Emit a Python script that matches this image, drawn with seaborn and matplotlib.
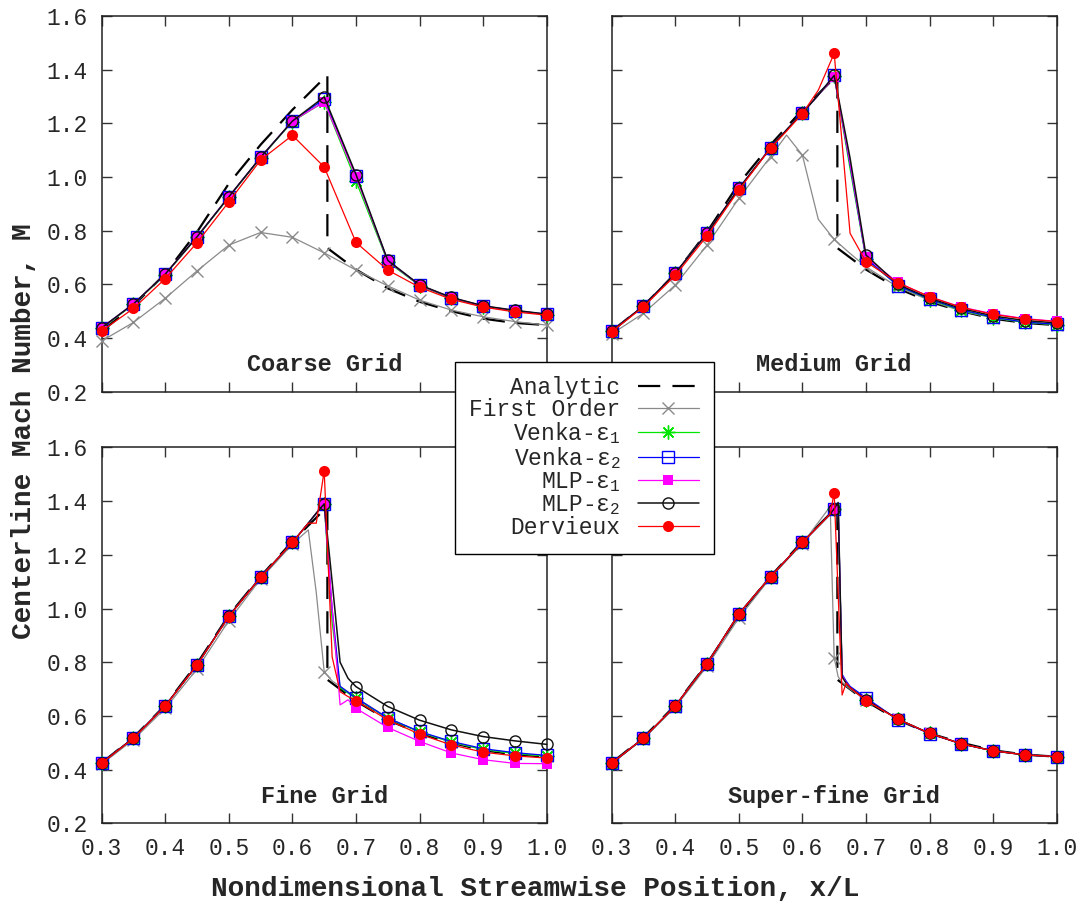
import numpy as np
import pandas as pd
import matplotlib
matplotlib.use("Agg")
import matplotlib.pyplot as plt
import seaborn as sns
from matplotlib.lines import Line2D

# ---------------- data ----------------
analytic_x = [0.30, 0.35, 0.40, 0.45, 0.50, 0.55, 0.60, 0.65, 0.655, 0.655,
              0.70, 0.75, 0.80, 0.85, 0.90, 0.95, 1.00]
analytic_m = [0.425, 0.52, 0.64, 0.795, 0.975, 1.12, 1.25, 1.368, 1.38, 0.735,
              0.655, 0.585, 0.535, 0.50, 0.472, 0.456, 0.448]

coarse_x = [0.30, 0.35, 0.40, 0.45, 0.50, 0.55, 0.60, 0.65, 0.70, 0.75, 0.80, 0.85, 0.90, 0.95, 1.00]
coarse_first = [0.389, 0.458, 0.548, 0.650, 0.746, 0.793, 0.775, 0.717, 0.653, 0.594, 0.541, 0.504, 0.479, 0.461, 0.448]
coarse_venka1 = [0.436, 0.525, 0.636, 0.775, 0.924, 1.071, 1.206, 1.280, 0.985, 0.683, 0.595, 0.548, 0.517, 0.500, 0.487]
coarse_venka2 = [0.438, 0.527, 0.638, 0.777, 0.926, 1.073, 1.208, 1.290, 1.005, 0.687, 0.597, 0.550, 0.519, 0.502, 0.488]
coarse_mlp1 = [0.438, 0.527, 0.638, 0.777, 0.926, 1.073, 1.208, 1.280, 1.000, 0.687, 0.597, 0.550, 0.519, 0.502, 0.488]
coarse_mlp2 = [0.438, 0.527, 0.638, 0.777, 0.926, 1.073, 1.208, 1.298, 1.009, 0.689, 0.598, 0.551, 0.520, 0.503, 0.489]
coarse_derv = [0.426, 0.510, 0.621, 0.755, 0.907, 1.063, 1.155, 1.037, 0.756, 0.653, 0.589, 0.544, 0.515, 0.497, 0.485]

medium_x = [0.30, 0.35, 0.40, 0.45, 0.50, 0.55, 0.575, 0.60, 0.625, 0.65, 0.675, 0.70,
            0.75, 0.80, 0.85, 0.90, 0.95, 1.00]
medium_first = [0.415, 0.492, 0.597, 0.746, 0.920, 1.076, 1.156, 1.081, 0.842, 0.767, 0.715, 0.665,
                0.590, 0.540, 0.500, 0.475, 0.458, 0.450]
medium_venka1 = [0.426, 0.519, 0.641, 0.790, 0.957, 1.108, 1.175, 1.238, 1.305, 1.375, 1.030, 0.695,
                 0.596, 0.543, 0.503, 0.476, 0.458, 0.450]
medium_venka2 = [0.426, 0.519, 0.641, 0.790, 0.957, 1.108, 1.175, 1.238, 1.305, 1.378, 1.045, 0.697,
                 0.595, 0.545, 0.505, 0.477, 0.459, 0.451]
medium_mlp1 = [0.426, 0.519, 0.641, 0.790, 0.957, 1.108, 1.175, 1.238, 1.305, 1.372, 1.050, 0.700,
               0.607, 0.553, 0.515, 0.490, 0.472, 0.462]
medium_mlp2 = [0.426, 0.519, 0.641, 0.790, 0.957, 1.108, 1.175, 1.238, 1.305, 1.378, 1.070, 0.709,
               0.600, 0.548, 0.510, 0.482, 0.465, 0.456]
medium_derv = [0.423, 0.516, 0.633, 0.780, 0.951, 1.108, 1.170, 1.236, 1.323, 1.460, 0.790, 0.684,
               0.606, 0.554, 0.514, 0.488, 0.471, 0.461]

fine_x = [0.30, 0.35, 0.40, 0.45, 0.50, 0.55, 0.60, 0.625, 0.6375, 0.65, 0.6625, 0.675, 0.6875, 0.70,
          0.75, 0.80, 0.85, 0.90, 0.95, 1.00]
fine_first = [0.420, 0.512, 0.628, 0.775, 0.955, 1.110, 1.240, 1.293, 1.060, 0.765, 0.730, 0.710, 0.690, 0.668,
              0.593, 0.540, 0.502, 0.475, 0.460, 0.450]
fine_venka1 = [0.425, 0.518, 0.638, 0.790, 0.972, 1.117, 1.246, 1.318, 1.355, 1.390, 0.950, 0.705, 0.685, 0.665,
               0.590, 0.540, 0.503, 0.475, 0.460, 0.450]
fine_venka2 = [0.425, 0.518, 0.638, 0.790, 0.972, 1.117, 1.246, 1.318, 1.355, 1.390, 1.000, 0.710, 0.688, 0.667,
               0.592, 0.542, 0.505, 0.478, 0.463, 0.453]
fine_mlp1 = [0.425, 0.518, 0.638, 0.790, 0.972, 1.117, 1.246, 1.318, 1.355, 1.390, 1.000, 0.641, 0.660, 0.628,
             0.557, 0.505, 0.462, 0.437, 0.423, 0.422]
fine_mlp2 = [0.425, 0.518, 0.638, 0.790, 0.972, 1.117, 1.246, 1.318, 1.355, 1.390, 1.100, 0.800, 0.740, 0.709,
             0.635, 0.584, 0.548, 0.523, 0.507, 0.494]
fine_derv = [0.424, 0.517, 0.637, 0.790, 0.970, 1.117, 1.246, 1.318, 1.318, 1.513, 0.820, 0.690, 0.672, 0.657,
             0.585, 0.532, 0.492, 0.465, 0.451, 0.443]

sfine_x = [0.30, 0.35, 0.40, 0.45, 0.50, 0.55, 0.60, 0.64375, 0.65, 0.65625, 0.6625, 0.66875, 0.675, 0.70,
           0.75, 0.80, 0.85, 0.90, 0.95, 1.00]
sfine_first = [0.422, 0.515, 0.632, 0.785, 0.965, 1.115, 1.242, 1.380, 0.817, 0.746, 0.725, 0.712, 0.700, 0.660,
               0.588, 0.535, 0.496, 0.470, 0.455, 0.448]
sfine_venka1 = [0.424, 0.517, 0.637, 0.794, 0.980, 1.119, 1.246, 1.352, 1.372, 1.390, 0.750, 0.725, 0.705, 0.660,
                0.588, 0.535, 0.496, 0.470, 0.455, 0.448]
sfine_venka2 = [0.424, 0.517, 0.637, 0.794, 0.980, 1.119, 1.246, 1.352, 1.372, 1.390, 0.755, 0.730, 0.710, 0.668,
                0.586, 0.534, 0.496, 0.470, 0.455, 0.448]
sfine_mlp1 = [0.424, 0.517, 0.637, 0.794, 0.980, 1.119, 1.246, 1.352, 1.372, 1.390, 0.750, 0.725, 0.705, 0.660,
              0.588, 0.535, 0.496, 0.470, 0.455, 0.448]
sfine_mlp2 = [0.424, 0.517, 0.637, 0.794, 0.980, 1.119, 1.246, 1.352, 1.372, 1.395, 0.745, 0.722, 0.705, 0.660,
              0.588, 0.535, 0.496, 0.470, 0.455, 0.448]
sfine_derv = [0.424, 0.517, 0.637, 0.794, 0.980, 1.119, 1.246, 1.352, 1.432, 1.055, 0.678, 0.722, 0.705, 0.657,
              0.588, 0.535, 0.496, 0.470, 0.455, 0.448]

grid_titles = ["Coarse Grid", "Medium Grid", "Fine Grid", "Super-fine Grid"]
series_labels = ["First Order", "Venka-ε$_1$", "Venka-ε$_2$", "MLP-ε$_1$", "MLP-ε$_2$", "Dervieux"]
x_ticks = [0.3, 0.4, 0.5, 0.6, 0.7, 0.8, 0.9, 1.0]
y_ticks = [0.2, 0.4, 0.6, 0.8, 1.0, 1.2, 1.4, 1.6]

grids = [
    (coarse_x, [coarse_first, coarse_venka1, coarse_venka2, coarse_mlp1, coarse_mlp2, coarse_derv]),
    (medium_x, [medium_first, medium_venka1, medium_venka2, medium_mlp1, medium_mlp2, medium_derv]),
    (fine_x, [fine_first, fine_venka1, fine_venka2, fine_mlp1, fine_mlp2, fine_derv]),
    (sfine_x, [sfine_first, sfine_venka1, sfine_venka2, sfine_mlp1, sfine_mlp2, sfine_derv]),
]

# ---------------- style ----------------
sns.set_style("ticks")
plt.rcParams["font.family"] = ["Liberation Mono", "DejaVu Sans Mono"]
plt.rcParams["mathtext.fontset"] = "custom"
plt.rcParams["mathtext.rm"] = "Liberation Mono"
plt.rcParams["mathtext.it"] = "Liberation Mono"
plt.rcParams["mathtext.bf"] = "Liberation Mono:bold"

FS = 16.5
styles = [
    dict(color="#8a8a8a", lw=0.9, marker="x", ms=9, mew=1.0, mfc="none", mec="#8a8a8a"),
    dict(color="#00e600", lw=0.9, marker=(8, 2, 0), ms=10, mew=1.0, mfc="none", mec="#00e600"),
    dict(color="#0000ff", lw=0.9, marker="s", ms=8, mew=1.0, mfc="none", mec="#0000ff"),
    dict(color="#ff00ff", lw=0.9, marker="s", ms=7.5, mew=0.0, mfc="#ff00ff", mec="#ff00ff"),
    dict(color="#111111", lw=1.1, marker="o", ms=8, mew=1.0, mfc="none", mec="#111111"),
    dict(color="#ff0000", lw=0.9, marker="o", ms=8, mew=0.0, mfc="#ff0000", mec="#ff0000"),
]
analytic_style = dict(color="black", lw=1.6, dashes=(10, 5.5))

fig = plt.figure(figsize=(10.83, 9.06), dpi=100)
lefts = [0.0939, 0.5648]
bottoms = [0.5677, 0.0913]
W, H = 0.4109, 0.4148

axes = []
for k in range(4):
    r, c = divmod(k, 2)
    ax = fig.add_axes([lefts[c], bottoms[r], W, H])
    axes.append(ax)
    xs, ys_list = grids[k]
    mark_idx = [i for i, v in enumerate(xs) if abs(v * 20 - round(v * 20)) < 1e-6]

    adf = pd.DataFrame({"x": analytic_x, "M": analytic_m})
    sns.lineplot(data=adf, x="x", y="M", ax=ax, sort=False, estimator=None,
                 color=analytic_style["color"], lw=analytic_style["lw"],
                 dashes=False, zorder=2)
    ax.lines[-1].set_dashes(analytic_style["dashes"])

    for lab, ys, st in zip(series_labels, ys_list, styles):
        df = pd.DataFrame({"x": xs, "M": ys})
        sns.lineplot(data=df, x="x", y="M", ax=ax, sort=False, estimator=None,
                     color=st["color"], lw=st["lw"], marker=st["marker"], ms=st["ms"],
                     markeredgewidth=st["mew"], markerfacecolor=st["mfc"],
                     markeredgecolor=st["mec"], markevery=mark_idx, clip_on=False, zorder=3)

    ax.set_xlim(0.3, 1.0)
    ax.set_ylim(0.2, 1.6)
    ax.set_xticks(x_ticks)
    ax.set_yticks(y_ticks)
    ax.set_xticklabels([f"{v:.1f}" for v in x_ticks])
    ax.set_yticklabels([f"{v:.1f}" for v in y_ticks])
    ax.tick_params(direction="in", length=7.5, width=1.0, top=True, right=True,
                   labelsize=FS, pad=10, color="#333333")
    if c == 1:
        ax.tick_params(labelleft=False)
    if r == 0:
        ax.tick_params(labelbottom=False)
    ax.set_xlabel("")
    ax.set_ylabel("")
    for sp in ax.spines.values():
        sp.set_linewidth(1.1)
        sp.set_color("#222222")
        sp.set_visible(True)
    ax.text(0.65, 0.30, grid_titles[k], ha="center", va="center",
            fontsize=17, fontweight="bold")

fig.text(0.022, 0.524, "Centerline Mach Number, M", rotation=90, ha="center", va="center",
         fontsize=20, fontweight="bold")
fig.text(0.494, 0.019, "Nondimensional Streamwise Position, x/L", ha="center", va="center",
         fontsize=20, fontweight="bold")

handles = [Line2D([], [], color=analytic_style["color"], lw=analytic_style["lw"],
                  dashes=analytic_style["dashes"])]
for st in styles:
    handles.append(Line2D([], [], color=st["color"], lw=st["lw"], marker=st["marker"], ms=st["ms"],
                          markeredgewidth=st["mew"], markerfacecolor=st["mfc"],
                          markeredgecolor=st["mec"]))
labels = ["Analytic"] + series_labels
leg = fig.legend(handles, labels, loc="upper left", bbox_to_anchor=(0.420, 0.6004),
                 bbox_transform=fig.transFigure, fontsize=FS, markerfirst=False,
                 handlelength=2.7, handletextpad=0.75, labelspacing=-0.04, borderpad=0.62,
                 borderaxespad=0.0, fancybox=False, framealpha=1.0, edgecolor="black")
leg.get_frame().set_linewidth(1.0)

fig.savefig("out.png", dpi=100)
